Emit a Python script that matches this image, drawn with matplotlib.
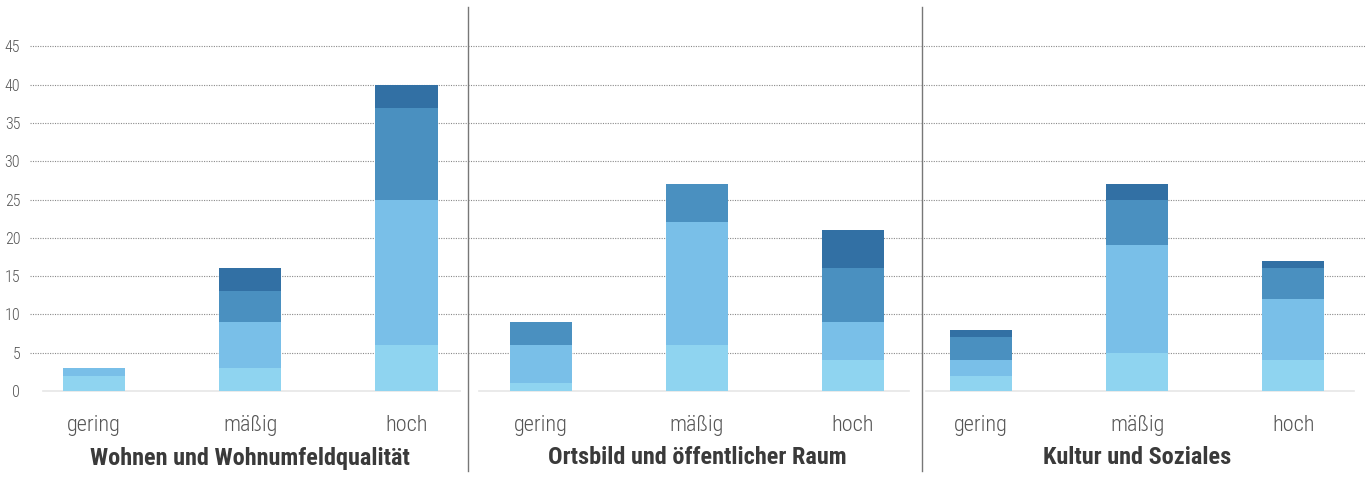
import matplotlib
matplotlib.use("Agg")
import matplotlib.pyplot as plt
from matplotlib.lines import Line2D

plt.rcParams['font.family'] = ['Roboto Condensed', 'DejaVu Sans']

# Categories and groups
levels = ['gering', 'mäßig', 'hoch']
groups = ['Wohnen und Wohnumfeldqualität', 'Ortsbild und öffentlicher Raum', 'Kultur und Soziales']

# Stacked segments per group, bottom to top (values per level: gering, mäßig, hoch)
seg1 = [[2, 3, 6], [1, 6, 4], [2, 5, 4]]
seg2 = [[1, 6, 19], [5, 16, 5], [2, 14, 8]]
seg3 = [[0, 4, 12], [3, 5, 7], [3, 6, 4]]
seg4 = [[0, 3, 3], [0, 0, 5], [1, 2, 1]]

yticks = [0, 5, 10, 15, 20, 25, 30, 35, 40, 45]
colors = ['#8fd4f0', '#79bfe8', '#4a90c0', '#3270a4']

W, H = 1370, 480
fig = plt.figure(figsize=(W / 100, H / 100), dpi=100)

# panel extents in pixels and x-limits so bar centres line up
panel_px = [(30, 468), (468, 921), (921, 1365)]
xlims = [(-0.41, 2.394), (-0.468, 2.436), (-0.385, 2.46)]
zero_bounds = [(-0.327, 2.343), (-0.40, 2.36), (-0.355, 2.39)]
y_top, y_zero = 7, 391

for i in range(3):
    x0, x1 = panel_px[i]
    ax = fig.add_axes([x0 / W, 1 - y_zero / H, (x1 - x0) / W, (y_zero - y_top) / H])
    stacks = [seg1[i], seg2[i], seg3[i], seg4[i]]
    bottom = [0, 0, 0]
    xs = list(range(len(levels)))
    for vals, c in zip(stacks, colors):
        ax.bar(xs, vals, bottom=bottom, width=0.4, color=c, zorder=3)
        bottom = [b + v for b, v in zip(bottom, vals)]
    ax.set_xlim(*xlims[i])
    ax.set_ylim(0, (y_zero - y_top) / 7.66)
    ax.set_yticks(yticks)
    for t in yticks[1:]:
        ax.axhline(t, color='#8a8a8a', lw=0.8, ls=(0, (1, 1.2)), zorder=1)
    for s in ['top', 'right', 'left']:
        ax.spines[s].set_visible(False)
    ax.spines['bottom'].set_color('#e6e6e6')
    ax.spines['bottom'].set_linewidth(1.2)
    ax.spines['bottom'].set_bounds(*zero_bounds[i])
    ax.set_xticks(xs)
    ax.set_xticklabels(levels, fontsize=16, color='#555555', fontweight=300)
    ax.tick_params(axis='x', length=0, pad=17.5)
    if i == 0:
        ax.set_yticklabels([str(t) for t in yticks], fontsize=11.5, color='#555555',
                           fontweight=300)
        ax.tick_params(axis='y', length=0, pad=7)
    else:
        ax.tick_params(axis='y', left=False, labelleft=False)
    ax.patch.set_alpha(0)
    centre = ax.transData.transform((1, 0))[0] / W
    fig.text(centre, 1 - 458 / H, groups[i], ha='center', va='center',
             fontsize=17.5, fontweight='bold', color='#3a3a3a')

# vertical dividers between groups
for xp in [468, 921.5]:
    fig.add_artist(Line2D([xp / W, xp / W], [1 - 7 / H, 1 - 471 / H],
                          color='#777777', lw=1))

fig.savefig('out.png', dpi=100)
